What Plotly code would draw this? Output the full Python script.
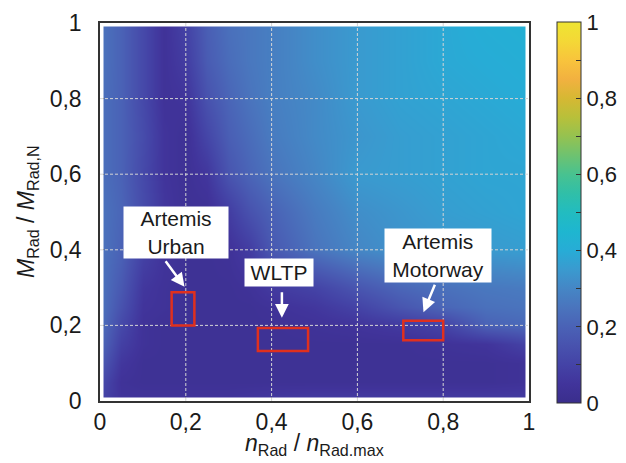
import plotly.graph_objects as go

# ---- data ----
x_vals = [0, 0.05, 0.1, 0.15, 0.2, 0.25, 0.3, 0.35, 0.4, 0.5, 0.6, 0.7, 0.8, 0.9, 1.0]
y_vals = [0, 0.05, 0.1, 0.15, 0.2, 0.25, 0.3, 0.4, 0.5, 0.6, 0.7, 0.8, 0.9, 1.0]
z_vals = [
    [.10, .05, .05, .05, .05, .05, .05, .06, .07, .08, .08, .08, .08, .08, .08],  # y=0
    [.13, .04, .03, .03, .03, .03, .03, .03, .03, .03, .03, .03, .03, .03, .04],  # 0.05
    [.18, .06, .03, .03, .03, .03, .03, .03, .03, .03, .03, .03, .03, .03, .04],  # 0.1
    [.22, .09, .04, .03, .03, .03, .03, .03, .03, .03, .03, .03, .04, .05, .10],  # 0.15
    [.24, .12, .04, .03, .03, .03, .03, .03, .03, .04, .05, .07, .10, .20, .22],  # 0.2
    [.25, .15, .05, .04, .03, .03, .03, .03, .04, .06, .10, .16, .21, .24, .25],  # 0.25
    [.25, .17, .06, .04, .03, .03, .03, .04, .07, .10, .16, .21, .24, .26, .27],  # 0.3
    [.25, .20, .10, .05, .03, .03, .04, .08, .17, .25, .30, .33, .34, .35, .36],  # 0.4
    [.25, .21, .13, .06, .03, .03, .08, .15, .20, .27, .32, .34, .36, .37, .38],  # 0.5
    [.24, .20, .12, .05, .03, .06, .16, .21, .25, .30, .35, .36, .37, .38, .38],  # 0.6
    [.24, .20, .13, .05, .03, .11, .19, .23, .27, .31, .34, .36, .37, .38, .39],  # 0.7
    [.24, .20, .12, .04, .05, .15, .21, .25, .28, .31, .35, .37, .38, .39, .40],  # 0.8
    [.25, .20, .12, .04, .08, .18, .23, .26, .28, .32, .35, .37, .39, .40, .41],  # 0.9
    [.25, .20, .12, .04, .10, .19, .24, .26, .28, .32, .35, .37, .39, .41, .42],  # 1.0
]

tick_vals = [0, 0.2, 0.4, 0.6, 0.8, 1]
tick_text = ["0", "0,2", "0,4", "0,6", "0,8", "1"]
cb_tick_vals = [0, 0.1, 0.2, 0.3, 0.4, 0.5, 0.6, 0.7, 0.8, 0.9, 1]
cb_tick_text = ["0", "", "0,2", "", "0,4", "", "0,6", "", "0,8", "", "1"]

x_title = "<i>n</i><sub>Rad</sub> / <i>n</i><sub>Rad.max</sub>"
y_title = "<i>M</i><sub>Rad</sub> / <i>M</i><sub>Rad,N</sub>"

# operating regions (x0, x1, y0, y1)
regions = {
    "Artemis Urban": (0.167, 0.220, 0.200, 0.288),
    "WLTP": (0.368, 0.485, 0.132, 0.193),
    "Artemis Motorway": (0.707, 0.800, 0.161, 0.212),
}
labels = [
    ("Artemis<br>Urban", 0.176, 0.447, 104, 51),
    ("WLTP", 0.417, 0.341, 68, 27),
    ("Artemis<br>Motorway", 0.789, 0.386, 106, 53),
]
arrows = [  # tip x, tip y, tail offset ax, ay (px)
    (0.197, 0.302, -20, -27),
    (0.424, 0.220, 0, -27),
    (0.754, 0.235, 12, -29),
]

grid_pos = [0.2, 0.4, 0.6, 0.8]

colorscale = [
    [0.00, '#3a2e8c'], [0.05, '#41349b'], [0.10, '#4443a6'], [0.15, '#4852ae'],
    [0.20, '#4a62b6'], [0.25, '#4a74bd'], [0.30, '#4586c5'], [0.35, '#3a9acf'],
    [0.40, '#27acd6'], [0.45, '#1eb6d0'], [0.50, '#22bcc0'], [0.55, '#30bfa8'],
    [0.60, '#48c290'], [0.65, '#6ec270'], [0.70, '#95c250'], [0.75, '#b8c03a'],
    [0.80, '#d6b833'], [0.85, '#f2b140'], [0.90, '#f8c43c'], [0.95, '#f4d836'],
    [1.00, '#eee532'],
]

FONT = "Liberation Sans, Arial, sans-serif"
TXT = '#1a1a1a'

# page body adds an 8px offset; figure coordinates are page coordinates minus 8
W, H = 618, 455
ML, MR, MT, MB = 92, 97, 15, 62
PW, PH = W - ML - MR, H - MT - MB

fig = go.Figure()
fig.add_trace(go.Heatmap(
    x=x_vals, y=y_vals, z=z_vals, zmin=0, zmax=1, zsmooth='best',
    colorscale=colorscale, hoverinfo='skip',
    colorbar=dict(
        x=(549 - ML) / PW, xanchor='left', xpad=0, ypad=0,
        y=(MT + PH - 204.5) / PH, yanchor='middle', len=381 / PH, lenmode='fraction',
        thickness=24, outlinecolor='#333333', outlinewidth=1,
        tickmode='array', tickvals=cb_tick_vals, ticktext=cb_tick_text,
        ticks='inside', ticklen=5, tickcolor='#333333',
        tickfont=dict(family=FONT, size=22, color=TXT),
    ),
))

shapes = []
# white inset border
shapes.append(dict(type='rect', xref='x', yref='y', x0=0, x1=1, y0=0, y1=1,
                   line=dict(color='white', width=7), layer='above'))
for g in grid_pos:
    shapes.append(dict(type='line', xref='x', yref='y', x0=g, x1=g, y0=0, y1=1,
                       line=dict(color='#d4d4d4', width=1, dash='3px,2px'), layer='above'))
    shapes.append(dict(type='line', xref='x', yref='y', x0=0, x1=1, y0=g, y1=g,
                       line=dict(color='#d4d4d4', width=1, dash='3px,2px'), layer='above'))
for name, (x0, x1, y0, y1) in regions.items():
    shapes.append(dict(type='rect', xref='x', yref='y', x0=x0, x1=x1, y0=y0, y1=y1,
                       line=dict(color='#e0301e', width=2.5), layer='above'))

annotations = []
for text, ax_, ay_, w, h in labels:
    annotations.append(dict(x=ax_, y=ay_, xref='x', yref='y', text=text, showarrow=False,
                            bgcolor='white', width=w, height=h, borderpad=0,
                            font=dict(family=FONT, size=21, color=TXT)))
for tx, ty, ox, oy in arrows:
    annotations.append(dict(x=tx, y=ty, xref='x', yref='y', text='', showarrow=True,
                            ax=ox, ay=oy, arrowcolor='white', arrowhead=2,
                            arrowsize=1.1, arrowwidth=2.5, standoff=0))
# axis titles
annotations.append(dict(x=0.5, y=-(437 - (MT + PH)) / PH, xref='paper', yref='paper',
                        text=x_title, showarrow=False, xanchor='center', yanchor='middle',
                        font=dict(family=FONT, size=23, color=TXT)))
annotations.append(dict(x=(19 - ML) / PW, y=0.5, xref='paper', yref='paper',
                        text=y_title, showarrow=False, xanchor='center', yanchor='middle',
                        textangle=-90, font=dict(family=FONT, size=23, color=TXT)))

axis_common = dict(
    range=[0, 1], tickmode='array', tickvals=tick_vals, ticktext=tick_text,
    showgrid=False, zeroline=False, showline=True, mirror=True,
    linecolor='#333333', linewidth=1.5, ticks='inside', ticklen=4, tickcolor='#333333',
    tickfont=dict(family=FONT, size=23, color=TXT),
)

fig.update_layout(
    width=W, height=H,
    margin=dict(l=ML, r=MR, t=MT, b=MB, autoexpand=False),
    paper_bgcolor='white', plot_bgcolor='white',
    xaxis=dict(**axis_common, ticklabelstandoff=0),
    yaxis=dict(**axis_common, ticklabelstandoff=12),
    shapes=shapes, annotations=annotations,
)

fig.write_html("out.html")
